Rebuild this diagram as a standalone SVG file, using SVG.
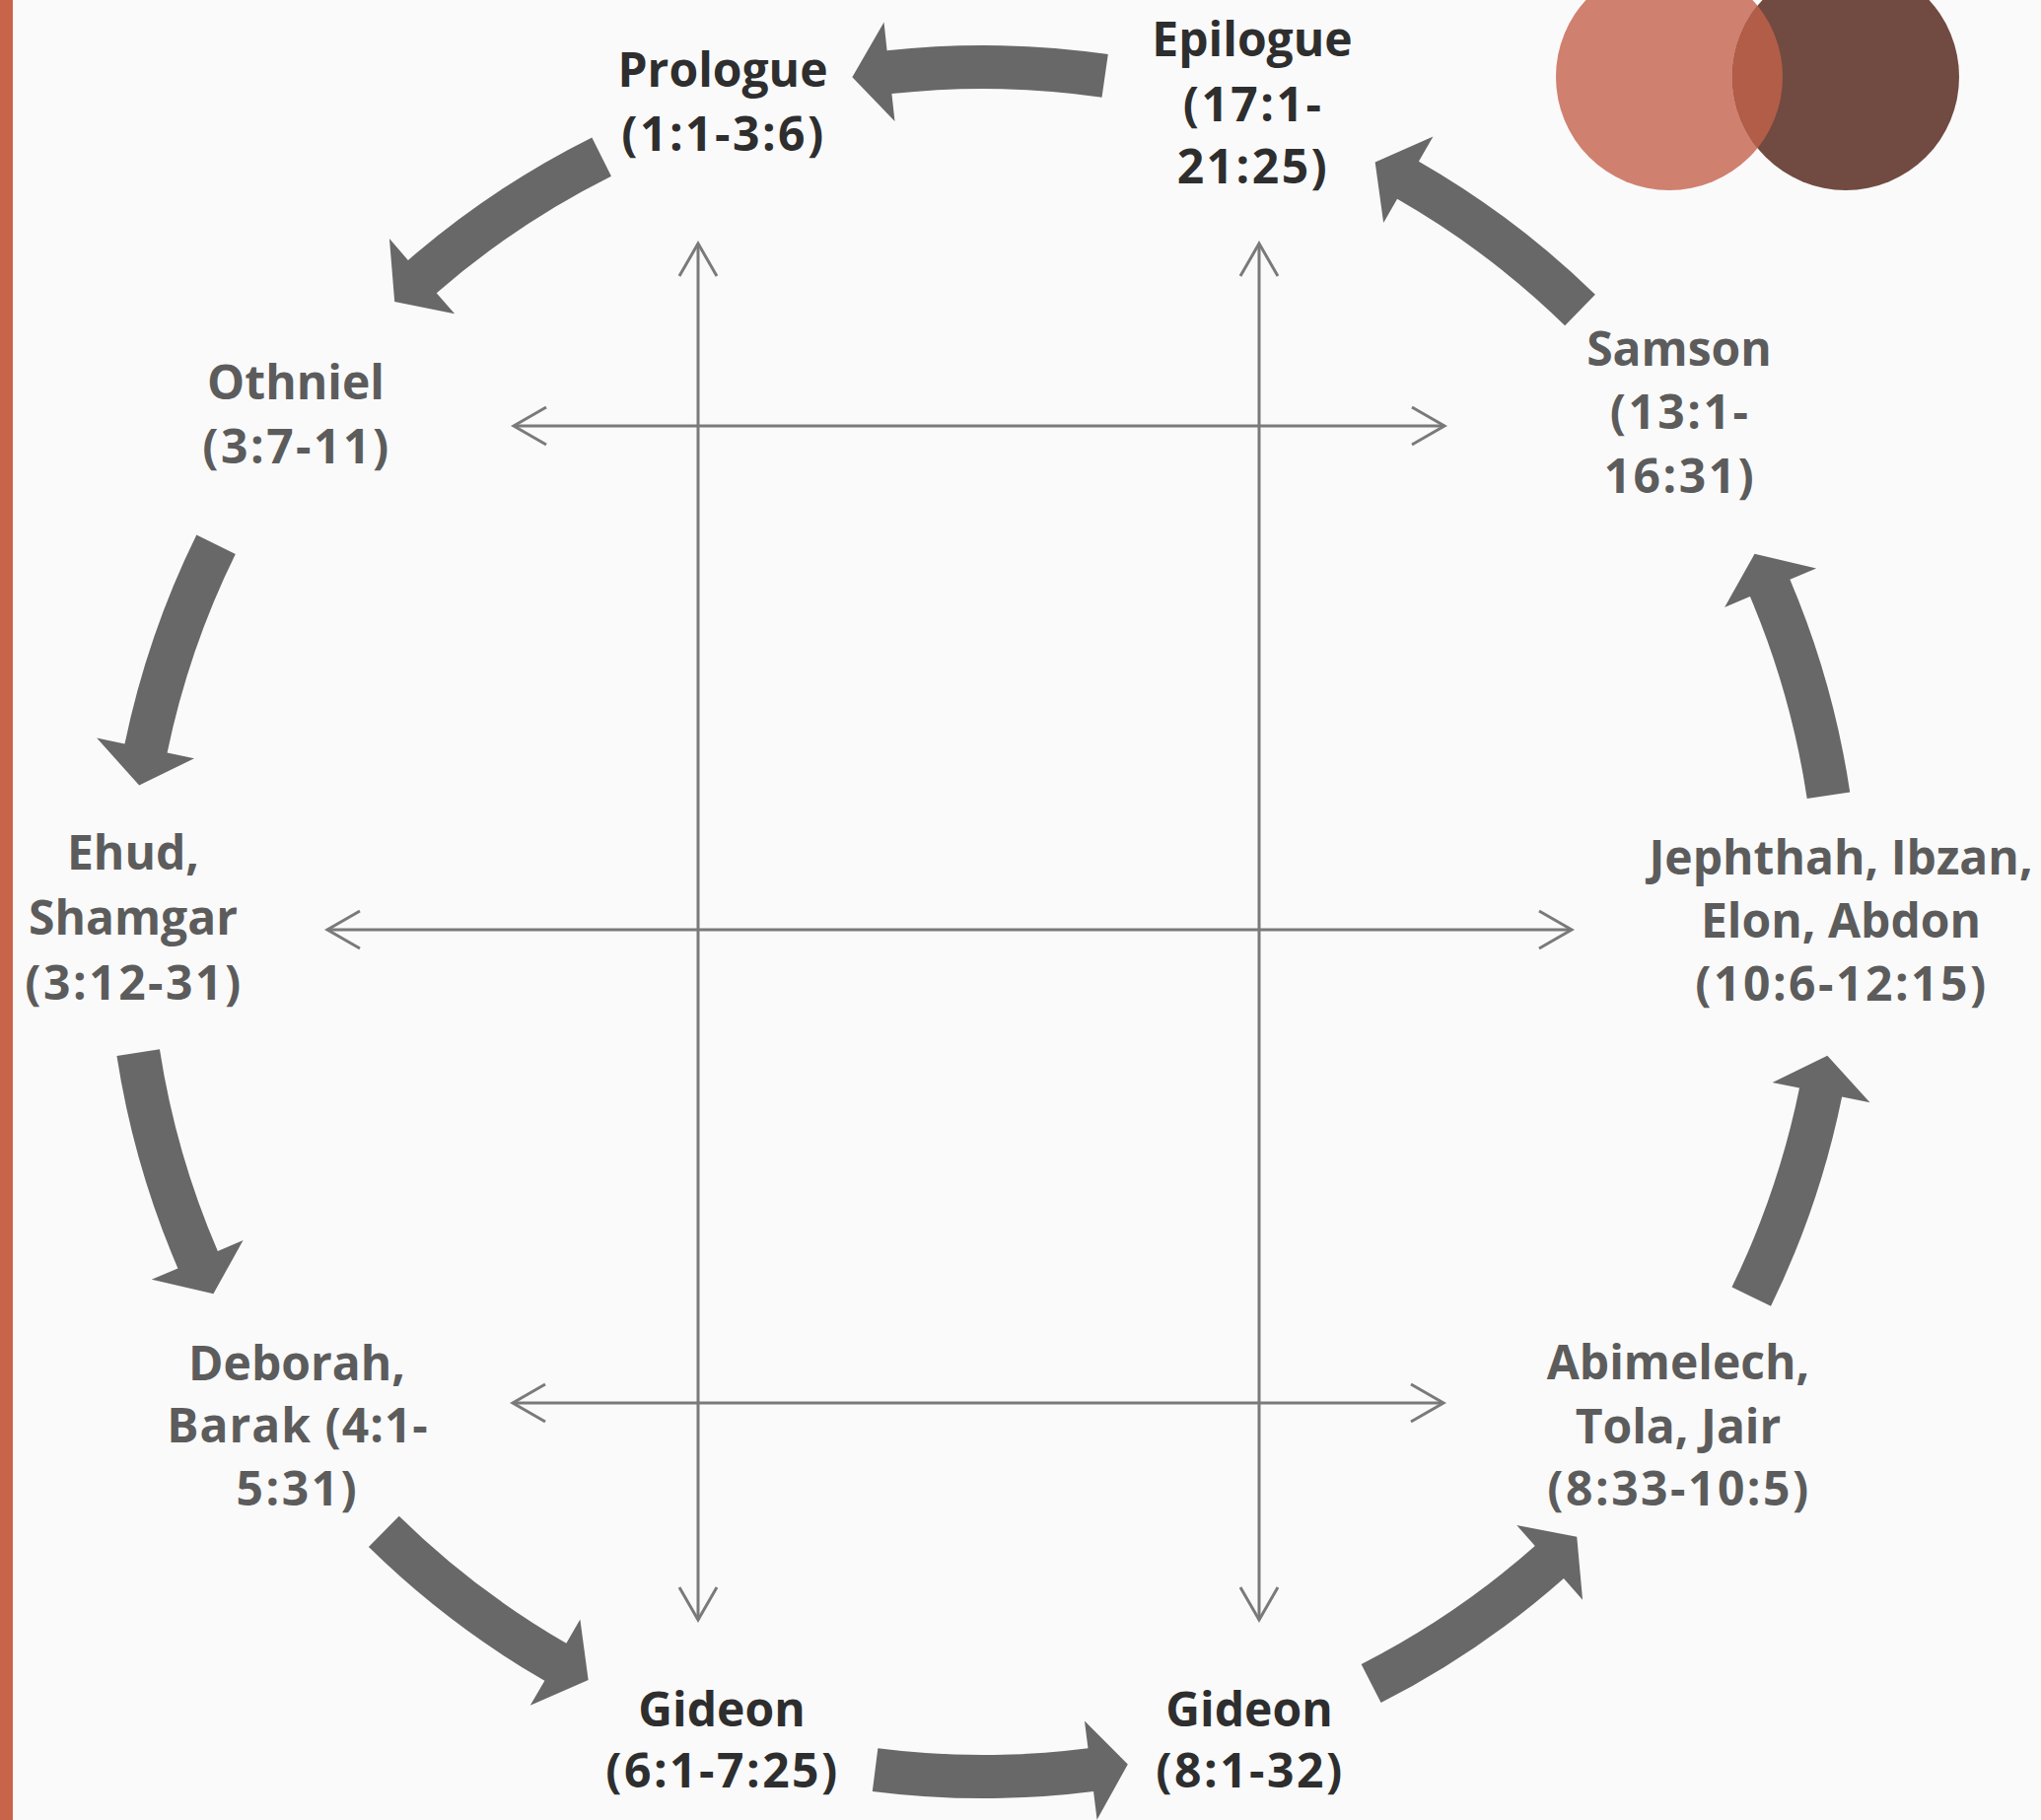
<svg xmlns="http://www.w3.org/2000/svg" xmlns:xlink="http://www.w3.org/1999/xlink" width="2070" height="1846" viewBox="0 0 2070 1846">
  <style>
    .lbl { font-family: "Open Sans", "Liberation Sans", sans-serif; font-weight: 700; font-size: 48px; text-anchor: middle; }
    .num { letter-spacing: 2.5px; }
    .mix { letter-spacing: 1px; }
    .dark { fill: #2e2e2e; }
    .gray { fill: #5c5c5c; }
    .guide { fill: none; stroke: #7a7a7a; stroke-width: 3; marker-start: url(#chev); marker-end: url(#chev); }
    .flow { fill: #686868; }
  </style>
  <defs>
    <marker id="chev" viewBox="-40 -24 46 48" refX="0" refY="0" markerWidth="46" markerHeight="48" markerUnits="userSpaceOnUse" orient="auto-start-reverse">
      <path d="M-33,-19 L0,0 L-33,19" fill="none" stroke="#7a7a7a" stroke-width="3"/>
    </marker>
    <path id="arc-arrow" d="M 879.24 131.40 A 889 889 0 0 0 884.15 -92.77 L 912.99 -95.69 L 857.48 -128.15 L 812.54 -85.25 L 840.39 -88.18 A 845 845 0 0 1 835.72 124.90 Z"/>
    <clipPath id="clip-left">
      <circle cx="1693" cy="78" r="115"/>
    </clipPath>
  </defs>

  <rect x="0" y="0" width="2070" height="1846" fill="#fafafa"/>
  <rect x="0" y="0" width="13" height="1846" fill="#c8644a"/>

  <g id="decor">
    <circle cx="1693" cy="78" r="115" fill="#d0806f"/>
    <circle cx="1872" cy="78" r="115" fill="#714a42"/>
    <circle cx="1872" cy="78" r="115" fill="#b25d48" clip-path="url(#clip-left)"/>
  </g>

  <g id="connectors">
    <g id="guides">
      <line class="guide" x1="708" y1="247" x2="708" y2="1643"/>
      <line class="guide" x1="1277" y1="247" x2="1277" y2="1643"/>
      <line class="guide" x1="521" y1="432" x2="1465" y2="432"/>
      <line class="guide" x1="332" y1="943" x2="1594" y2="943"/>
      <line class="guide" x1="520" y1="1423" x2="1464" y2="1423"/>
    </g>
    <g id="cycle" class="flow" transform="translate(997 935)">
      <use xlink:href="#arc-arrow" transform="rotate(-90.3)"/>
      <use xlink:href="#arc-arrow" transform="rotate(-125)"/>
      <use xlink:href="#arc-arrow" transform="rotate(-162.3)"/>
      <use xlink:href="#arc-arrow" transform="rotate(162.7)"/>
      <use xlink:href="#arc-arrow" transform="rotate(126)"/>
      <use xlink:href="#arc-arrow" transform="rotate(88.75)"/>
      <use xlink:href="#arc-arrow" transform="rotate(54.5)"/>
      <use xlink:href="#arc-arrow" transform="rotate(17.5)"/>
      <use xlink:href="#arc-arrow" transform="rotate(-17)"/>
      <use xlink:href="#arc-arrow" transform="rotate(-54.2)"/>
    </g>
  </g>

  <g id="node-prologue">
    <text class="lbl dark"><tspan x="733" y="88">Prologue</tspan><tspan class="num" x="734" y="153">(1:1-3:6)</tspan></text>
  </g>
  <g id="node-othniel">
    <text class="lbl gray"><tspan x="300" y="405">Othniel</tspan><tspan class="num" x="301" y="470">(3:7-11)</tspan></text>
  </g>
  <g id="node-ehud">
    <text class="lbl gray"><tspan x="135" y="882">Ehud,</tspan><tspan x="135" y="948">Shamgar</tspan><tspan class="num" x="136" y="1014">(3:12-31)</tspan></text>
  </g>
  <g id="node-deborah">
    <text class="lbl gray"><tspan x="301" y="1400">Deborah,</tspan><tspan class="mix" x="302" y="1463">Barak (4:1-</tspan><tspan class="num" x="302" y="1527">5:31)</tspan></text>
  </g>
  <g id="node-gideon1">
    <text class="lbl dark"><tspan x="732" y="1751">Gideon</tspan><tspan class="num" x="733" y="1813">(6:1-7:25)</tspan></text>
  </g>
  <g id="node-gideon2">
    <text class="lbl dark"><tspan x="1267" y="1751">Gideon</tspan><tspan class="num" x="1268" y="1813">(8:1-32)</tspan></text>
  </g>
  <g id="node-abimelech">
    <text class="lbl gray"><tspan x="1702" y="1399">Abimelech,</tspan><tspan x="1702" y="1464">Tola, Jair</tspan><tspan class="num" x="1703" y="1527">(8:33-10:5)</tspan></text>
  </g>
  <g id="node-jephthah">
    <text class="lbl gray"><tspan x="1867" y="887">Jephthah, Ibzan,</tspan><tspan x="1867" y="951">Elon, Abdon</tspan><tspan class="num" x="1868" y="1015">(10:6-12:15)</tspan></text>
  </g>
  <g id="node-samson">
    <text class="lbl gray"><tspan x="1703" y="371">Samson</tspan><tspan class="num" x="1704" y="435">(13:1-</tspan><tspan class="num" x="1704" y="500">16:31)</tspan></text>
  </g>
  <g id="node-epilogue">
    <text class="lbl dark"><tspan x="1270" y="57">Epilogue</tspan><tspan class="num" x="1271" y="123">(17:1-</tspan><tspan class="num" x="1271" y="186">21:25)</tspan></text>
  </g>
</svg>
